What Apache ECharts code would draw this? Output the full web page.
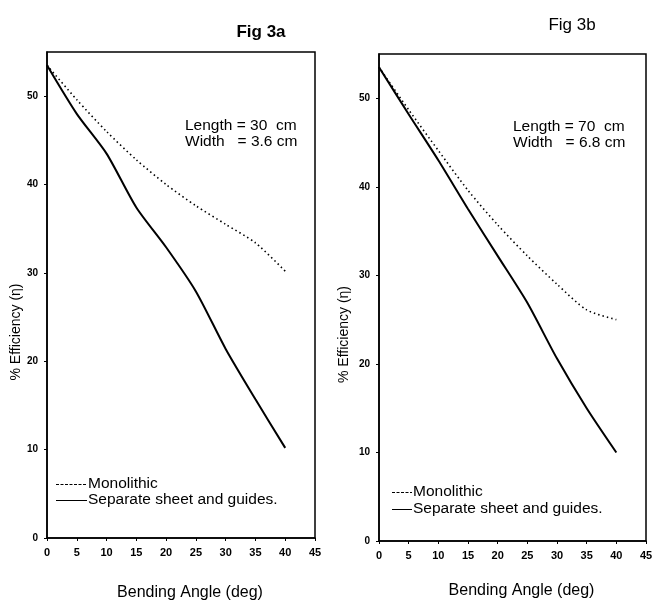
<!DOCTYPE html>
<html>
<head>
<meta charset="utf-8">
<script src="https://cdn.jsdelivr.net/npm/echarts@6/dist/echarts.min.js"></script>
<style>
  html, body { margin: 0; padding: 0; background: #fff; }
  #chart { width: 654px; height: 601px; }
</style>
</head>
<body>
<div id="chart"></div>
<script>
// bending angle (deg)
const angles = [0, 5, 10, 15, 20, 25, 30, 35, 40];
// Fig 3a: length 30 cm, width 3.6 cm
const monolithicA = [53.5, 49.6, 46.0, 42.8, 40.0, 37.6, 35.5, 33.4, 30.2];
const separateA = [53.5, 48.0, 43.5, 37.4, 32.9, 27.9, 21.4, 15.7, 10.2];
// Fig 3b: length 70 cm, width 6.8 cm
const monolithicB = [53.5, 48.7, 44.1, 39.6, 35.7, 32.2, 29.0, 26.1, 25.0];
const separateB = [53.5, 48.2, 43.0, 37.5, 32.2, 26.9, 20.6, 15.0, 10.0];

const seriesNames = ['Monolithic', 'Separate sheet and guides.'];
const fontFamily = '"Liberation Sans", Arial, sans-serif';

function pairs(values) {
  return angles.map((a, i) => [a, values[i]]);
}

function xAxisFor(gridIndex, gap) {
  return {
    type: 'value',
    gridIndex: gridIndex,
    min: 0,
    max: 45,
    interval: 5,
    name: 'Bending Angle (deg)',
    nameLocation: 'middle',
    nameGap: gap,
    nameTextStyle: { fontFamily: fontFamily, fontSize: 16, color: '#000', padding: [0, 0, 0, 18] },
    axisLine: { lineStyle: { color: '#000', width: 1.5 } },
    axisTick: { length: 3, lineStyle: { color: '#000' } },
    axisLabel: { fontFamily: fontFamily, fontSize: 11, fontWeight: 'bold', color: '#000', margin: 9 },
    splitLine: { show: false },
  };
}

function yAxisFor(gridIndex, gap) {
  return {
    type: 'value',
    gridIndex: gridIndex,
    min: 0,
    max: 55,
    interval: 10,
    name: '% Efficiency (η)',
    nameLocation: 'middle',
    nameGap: gap,
    nameTextStyle: { fontFamily: fontFamily, fontSize: 14, color: '#000', padding: [0, 74, 0, 0] },
    axisLine: { lineStyle: { color: '#000', width: 1.5 } },
    axisTick: { length: 3, lineStyle: { color: '#000' } },
    axisLabel: { fontFamily: fontFamily, fontSize: 10, fontWeight: 'bold', color: '#000', margin: 9, showMaxLabel: false },
    splitLine: { show: false },
  };
}

function lineSeries(name, values, idx, dotted) {
  return {
    name: name,
    type: 'line',
    xAxisIndex: idx,
    yAxisIndex: idx,
    data: pairs(values),
    smooth: 0.25,
    showSymbol: false,
    symbol: 'none',
    lineStyle: dotted
      ? { color: '#000', width: 1.6, type: [1.5, 3] }
      : { color: '#000', width: 2 },
    emphasis: { disabled: true },
  };
}

// legend drawn as a sample line followed by the series name
function legendRow(x1, x2, y, name, dashed) {
  return [
    {
      type: 'line',
      shape: { x1: x1, y1: y + 0.5, x2: x2, y2: y + 0.5 },
      style: { stroke: '#000', lineWidth: 1, lineDash: dashed ? [3, 1.5] : null },
    },
    {
      type: 'text',
      style: {
        x: x2 + 1,
        y: y,
        text: name,
        font: '15.5px ' + fontFamily,
        fill: '#000',
        verticalAlign: 'middle',
      },
    },
  ];
}

function annotation(left, top, lines) {
  return {
    type: 'text',
    left: left,
    top: top,
    style: {
      text: lines.join('\n'),
      font: '15.5px ' + fontFamily,
      lineHeight: 16,
      fill: '#000',
    },
  };
}

const chart = echarts.init(document.getElementById('chart'));
chart.setOption({
  animation: false,
  backgroundColor: '#fff',
  title: [
    { text: 'Fig 3a', left: 256, top: 19, textAlign: 'center', textStyle: { fontFamily: fontFamily, fontSize: 17, fontWeight: 'bold', color: '#000' } },
    { text: 'Fig 3b', left: 567, top: 12, textAlign: 'center', textStyle: { fontFamily: fontFamily, fontSize: 17, fontWeight: 'normal', color: '#000' } },
  ],
  grid: [
    { left: 47, top: 52, width: 268, height: 486, outerBoundsMode: 'none', containLabel: false, show: true, borderColor: '#000', borderWidth: 1.5, backgroundColor: 'transparent' },
    { left: 379, top: 54, width: 267, height: 487, outerBoundsMode: 'none', containLabel: false, show: true, borderColor: '#000', borderWidth: 1.5, backgroundColor: 'transparent' },
  ],
  xAxis: [xAxisFor(0, 47), xAxisFor(1, 42)],
  yAxis: [yAxisFor(0, 24), yAxisFor(1, 28)],
  series: [
    lineSeries(seriesNames[0], monolithicA, 0, true),
    lineSeries(seriesNames[1], separateA, 0, false),
    lineSeries(seriesNames[0], monolithicB, 1, true),
    lineSeries(seriesNames[1], separateB, 1, false),
  ],
  graphic: [
    annotation(185, 118, ['Length = 30  cm', 'Width   = 3.6 cm']),
    annotation(513, 119, ['Length = 70  cm', 'Width   = 6.8 cm']),
    ...legendRow(56, 87, 484, seriesNames[0], true),
    ...legendRow(56, 87, 500, seriesNames[1], false),
    ...legendRow(392, 412, 492, seriesNames[0], true),
    ...legendRow(392, 412, 509, seriesNames[1], false),
  ],
});
</script>
</body>
</html>
